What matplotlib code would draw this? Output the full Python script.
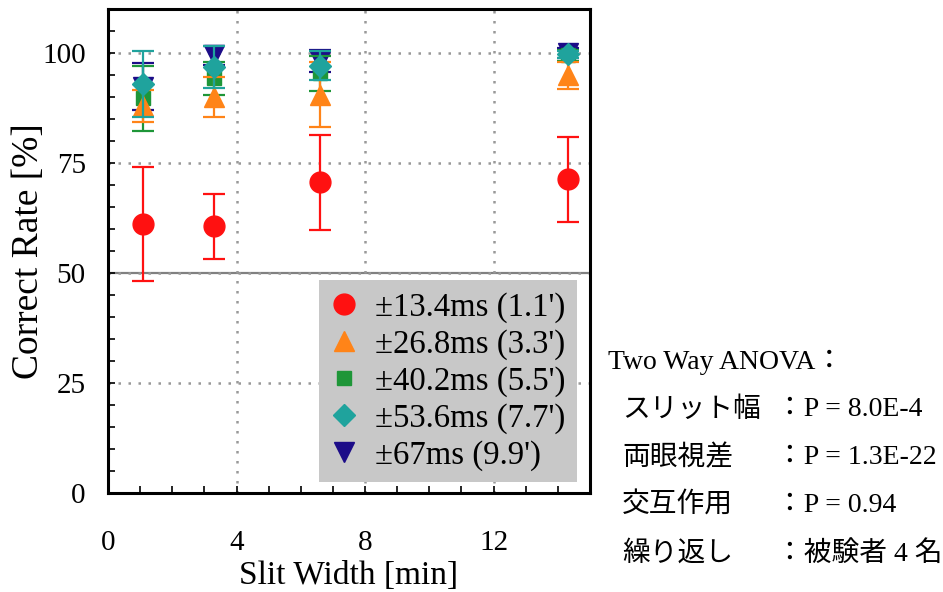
import matplotlib
matplotlib.use('Agg')
import matplotlib.pyplot as plt

plt.rcParams['font.family'] = ['Liberation Serif', 'Noto Sans CJK JP']

# slit widths [min]
x = [1.1, 3.3, 6.6, 14.3]

labels = ["±13.4ms (1.1')", "±26.8ms (3.3')", "±40.2ms (5.5')",
          "±53.6ms (7.7')", "±67ms (9.9')"]

y_134 = [61.2, 60.6, 70.6, 71.3]
e_134 = [13.0, 7.4, 10.8, 9.6]
y_268 = [88.0, 90.0, 90.6, 95.0]
e_268 = [3.7, 4.5, 7.4, 3.1]
y_402 = [89.8, 94.3, 95.4, 99.5]
e_402 = [7.4, 3.8, 4.0, 1.2]
y_536 = [93.0, 96.9, 97.2, 99.8]
e_536 = [7.4, 4.8, 3.2, 0.8]
y_670 = [92.4, 99.5, 98.3, 100.0]
e_670 = [5.4, 2.2, 2.5, 1.1]

anova_names = ["スリット幅", "両眼視差", "交互作用", "繰り返し"]
anova_vals = ["：P = 8.0E-4", "：P = 1.3E-22", "：P = 0.94", "：被験者 4 名"]

fig = plt.figure(figsize=(9.43, 5.92), dpi=100)
ax = fig.add_axes([0.1145, 0.1677, 0.5112, 0.8166])

series = [
    (y_134, e_134, 'o', '#ff1111', 15, 6),
    (y_268, e_268, '^', '#ff8418', 15, 4),
    (y_402, e_402, 's', '#1e9638', 10, 3),
    (y_536, e_536, 'D', '#1fa39d', 11, 5),
    (y_670, e_670, 'v', '#1c0c88', 14, 2),
]
handles = []
for (ys, es, m, c, ms, z), lab in zip(series, labels):
    h = ax.errorbar(x, ys, yerr=es, fmt=m, color=c, ms=ms, mec=c,
                    elinewidth=1.6, capsize=8, capthick=1.6, zorder=z,
                    label=lab)
    handles.append(h)

ax.axhline(50, color='#808080', lw=1.6, zorder=1)

ax.set_xlim(0, 15)
ax.set_ylim(0, 110)
ax.set_xticks([0, 4, 8, 12])
ax.set_yticks([0, 25, 50, 75, 100])
ax.set_xticks(range(0, 16), minor=True)
ax.set_yticks(range(0, 111, 5), minor=True)
ax.tick_params(which='both', direction='in', length=5, width=1.2)
ax.tick_params(axis='x', pad=27, labelsize=21)
ax.tick_params(axis='y', pad=16, labelsize=21)
ax.grid(True, which='major', linestyle=(0, (1, 3)), color='#999999', lw=1.8)
for s in ax.spines.values():
    s.set_linewidth(2.2)

ax.set_xlabel('Slit Width [min]', fontsize=24, labelpad=3)
ax.set_ylabel('Correct Rate [%]', fontsize=27, labelpad=-3)

leg = ax.legend(handles=[h[0] for h in handles], labels=labels,
                loc='lower right', bbox_to_anchor=(0.973, 0.022),
                borderaxespad=0, fontsize=23.6, frameon=True,
                facecolor='#c8c8c8', edgecolor='none', framealpha=1,
                fancybox=False, handletextpad=0.55, labelspacing=0.19,
                borderpad=0.35, handlelength=0.8)
leg.set_zorder(10)

fig.text(608 / 943, 1 - 362 / 592, 'Two Way ANOVA：', fontsize=20,
         va='center', ha='left')
for i, (n, v) in enumerate(zip(anova_names, anova_vals)):
    yy = 1 - (410 + 48 * i) / 592
    fig.text(622 / 943, yy, n, fontsize=20, va='center', ha='left')
    fig.text(776 / 943, yy, v, fontsize=20, va='center', ha='left')

fig.savefig('out.png', dpi=100)
